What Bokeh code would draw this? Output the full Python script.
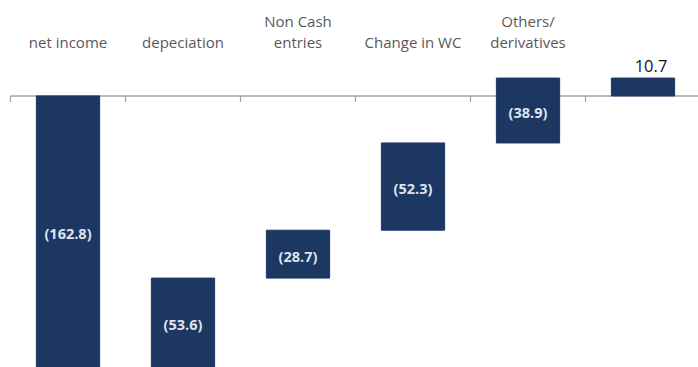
import math
from bokeh.plotting import figure
from bokeh.models import Range1d, ColumnDataSource
from bokeh.core.properties import value
from bokeh.embed import file_html
from bokeh.resources import INLINE

# Cash-flow bridge: net income and the items that move it to the final figure
categories = ["net income", "depeciation", "Non Cash\nentries", "Change in WC", "Others/\nderivatives"]
amounts = [162.8, 53.6, 28.7, 52.3, 38.9]
total_label = "10.7"

BAR_COLOR = "#1c3762"
AXIS_COLOR = "#a3a3a3"
CAT_COLOR = "#595959"
INNER_TEXT = "#dfe4ec"
FONT = "Open Sans"

# Waterfall geometry: net income drops from zero, the rest climb back up
bottoms, tops = [], []
level = -amounts[0]
bottoms.append(level)
tops.append(0.0)
for a in amounts[1:]:
    bottoms.append(level)
    level += a
    tops.append(level)
total = round(level, 1)
bottoms.append(0.0)
tops.append(total)

n = len(bottoms)
xs = list(range(n))
y_lo, y_hi = -162.8, 57.2
H, W = 367, 698
px_per_unit = H / (y_hi - y_lo)
slot_px = 115.0
x_start = -0.5 - 10.0 / slot_px
x_end = x_start + W / slot_px

p = figure(width=W, height=H, output_backend="svg", toolbar_location=None,
           x_range=Range1d(x_start, x_end), y_range=Range1d(y_lo, y_hi),
           min_border=0, outline_line_color=None)
p.axis.visible = False
p.grid.visible = False
p.background_fill_color = "white"
p.border_fill_color = "white"

# baseline with category separators
p.segment(x0=[-0.5], y0=[0], x1=[x_end], y1=[0], line_color=AXIS_COLOR, line_width=1.5)
seps = [i - 0.5 for i in range(n + 1)]
p.ray(x=seps, y=[0] * len(seps), length=6, length_units="screen", angle=-math.pi / 2,
      line_color=AXIS_COLOR, line_width=1.2)

bar_src = ColumnDataSource(dict(x=xs, bottom=bottoms, top=tops))
p.vbar(x="x", bottom="bottom", top="top", width=0.55, source=bar_src,
       fill_color=BAR_COLOR, line_color=BAR_COLOR)

# values inside the flow bars
mids = [(b + t) / 2 for b, t in zip(bottoms[:-1], tops[:-1])]
p.text(x=xs[:-1], y=mids, text=[f"({a})" for a in amounts],
       text_align="center", text_baseline="middle", text_color=INNER_TEXT,
       text_font=value(FONT), text_font_size="14.5px", text_font_style="bold",
       y_offset=2)

# final figure above its bar
p.text(x=[xs[-1]], y=[tops[-1]], text=[total_label], text_align="center",
       text_baseline="bottom", text_color="#111111", text_font=value(FONT),
       text_font_size="16.5px", x_offset=8, y_offset=-6)

# category captions along the top, bottom lines aligned
def y_at_px(py):
    return y_hi - py / px_per_unit

line1_x, line1_t, line2_x, line2_t = [], [], [], []
for i, c in enumerate(categories):
    parts = c.split("\n")
    line2_x.append(i)
    line2_t.append(parts[-1])
    if len(parts) > 1:
        line1_x.append(i)
        line1_t.append(parts[0])
p.text(x=line2_x, y=[y_at_px(41)] * len(line2_x), text=line2_t, text_align="center",
       text_baseline="middle", text_color=CAT_COLOR, text_font=value(FONT),
       text_font_size="15px")
p.text(x=line1_x, y=[y_at_px(20)] * len(line1_x), text=line1_t, text_align="center",
       text_baseline="middle", text_color=CAT_COLOR, text_font=value(FONT),
       text_font_size="15px")

open("out.html", "w").write(file_html(p, INLINE))
